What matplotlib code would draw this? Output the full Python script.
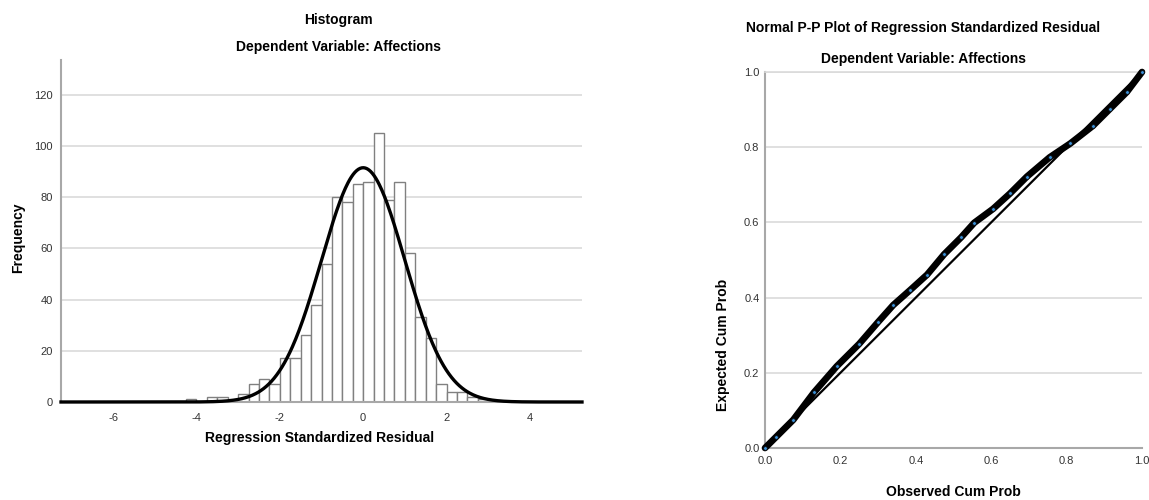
import numpy as np
import matplotlib.pyplot as plt

plt.rcParams['font.family'] = ['Liberation Sans', 'DejaVu Sans']
plt.rcParams['axes.unicode_minus'] = False

# histogram of regression standardized residuals (bin width 0.25)
bin_left = [-4.25, -4.0, -3.75, -3.5, -3.25, -3.0, -2.75, -2.5, -2.25, -2.0, -1.75,
            -1.5, -1.25, -1.0, -0.75, -0.5, -0.25, 0.0, 0.25, 0.5, 0.75, 1.0,
            1.25, 1.5, 1.75, 2.0, 2.25, 2.5, 2.75]
freq = [1, 0, 2, 2, 0, 3, 7, 9, 7, 17, 17,
        26, 38, 54, 80, 78, 85, 86, 105, 79, 86, 58,
        33, 25, 7, 4, 4, 2, 1]
bin_w = 0.25

# normal curve parameters reported by SPSS
res_mean = 0.0
res_sd = 0.999
res_n = 916

# normal P-P plot
obs_cum = [0.0, 0.03, 0.075, 0.13, 0.19, 0.25, 0.30, 0.34, 0.385, 0.43, 0.475,
           0.52, 0.555, 0.605, 0.65, 0.695, 0.755, 0.81, 0.87, 0.915, 0.96, 1.0]
exp_cum = [0.0, 0.03, 0.075, 0.148, 0.217, 0.277, 0.335, 0.38, 0.42, 0.461, 0.515,
           0.56, 0.599, 0.636, 0.677, 0.722, 0.773, 0.81, 0.857, 0.902, 0.947, 1.0]

grid_c = '#dadada'
spine_c = '#a8a8a8'
tick_c = '#333333'

fig = plt.figure(figsize=(11.49, 5.0), dpi=100)

# ---- histogram
ax1 = fig.add_axes([61/1149, 98/500, 521/1149, 342/500])
ax1.bar(bin_left, freq, width=bin_w, align='edge', color='white',
        edgecolor='#808080', linewidth=1.0, zorder=2)
xs = np.linspace(-7.25, 5.25, 600)
curve = res_n * bin_w * np.exp(-0.5*((xs-res_mean)/res_sd)**2) / (res_sd*np.sqrt(2*np.pi))
ax1.plot(xs, curve, color='black', lw=2.4, zorder=3, clip_on=False)
ax1.set_xlim(-7.25, 5.25)
ax1.set_ylim(0, 133.5)
ax1.set_xticks([-6, -4, -2, 0, 2, 4])
ax1.set_yticks([0, 20, 40, 60, 80, 100, 120])
ax1.yaxis.grid(True, color=grid_c, lw=1.2, zorder=0)
ax1.set_axisbelow(True)
for s in ['top', 'right']:
    ax1.spines[s].set_visible(False)
for s in ['left', 'bottom']:
    ax1.spines[s].set_color(spine_c)
    ax1.spines[s].set_linewidth(1.5)
ax1.tick_params(length=0, labelsize=8, colors=tick_c, pad=8)
ax1.tick_params(axis='y', pad=6)
fig.text(320/1149, 1-438/500, 'Regression Standardized Residual', ha='center',
         va='center', fontsize=10, fontweight='bold')
fig.text(18/1149, 1-238/500, 'Frequency', ha='center', va='center',
         rotation=90, fontsize=10, fontweight='bold')
fig.text(338/1149, 1-20/500, 'Histogram', ha='center', va='center',
         fontsize=10, fontweight='bold')
fig.text(338/1149, 1-47/500, 'Dependent Variable: Affections', ha='center',
         va='center', fontsize=10, fontweight='bold')

# ---- P-P plot
ax2 = fig.add_axes([765/1149, 52/500, 377/1149, 376/500])
ax2.plot([0, 1], [0, 1], color='black', lw=1.6, zorder=2)
ax2.plot(obs_cum, exp_cum, color='black', lw=4.8, solid_capstyle='round',
         zorder=3, clip_on=False)
ax2.scatter(obs_cum, exp_cum, s=7, facecolor='#3a8fd6', edgecolor='#0a0a0a',
            linewidth=0.5, zorder=4, clip_on=False)
ax2.set_xlim(0, 1)
ax2.set_ylim(0, 1)
ax2.set_xticks(np.arange(0, 1.01, 0.2))
ax2.set_yticks(np.arange(0, 1.01, 0.2))
ax2.set_xticklabels(['0.0', '0.2', '0.4', '0.6', '0.8', '1.0'])
ax2.set_yticklabels(['0.0', '0.2', '0.4', '0.6', '0.8', '1.0'])
ax2.yaxis.grid(True, color=grid_c, lw=1.2, zorder=0)
ax2.set_axisbelow(True)
ax2.spines['right'].set_visible(False)
ax2.spines['top'].set_color(grid_c)
ax2.spines['top'].set_linewidth(1.2)
for s in ['left', 'bottom']:
    ax2.spines[s].set_color(spine_c)
    ax2.spines[s].set_linewidth(1.5)
ax2.tick_params(length=0, labelsize=8, colors=tick_c, pad=4)
ax2.tick_params(axis='x', pad=6)
fig.text(953/1149, 1-492/500, 'Observed Cum Prob', ha='center', va='center',
         fontsize=10, fontweight='bold')
fig.text(723/1149, 1-345/500, 'Expected Cum Prob', ha='center', va='center',
         rotation=90, fontsize=10, fontweight='bold')
fig.text(923/1149, 1-28/500, 'Normal P-P Plot of Regression Standardized Residual',
         ha='center', va='center', fontsize=10, fontweight='bold')
fig.text(923/1149, 1-59/500, 'Dependent Variable: Affections', ha='center',
         va='center', fontsize=10, fontweight='bold')

fig.savefig('out.png', dpi=100)
